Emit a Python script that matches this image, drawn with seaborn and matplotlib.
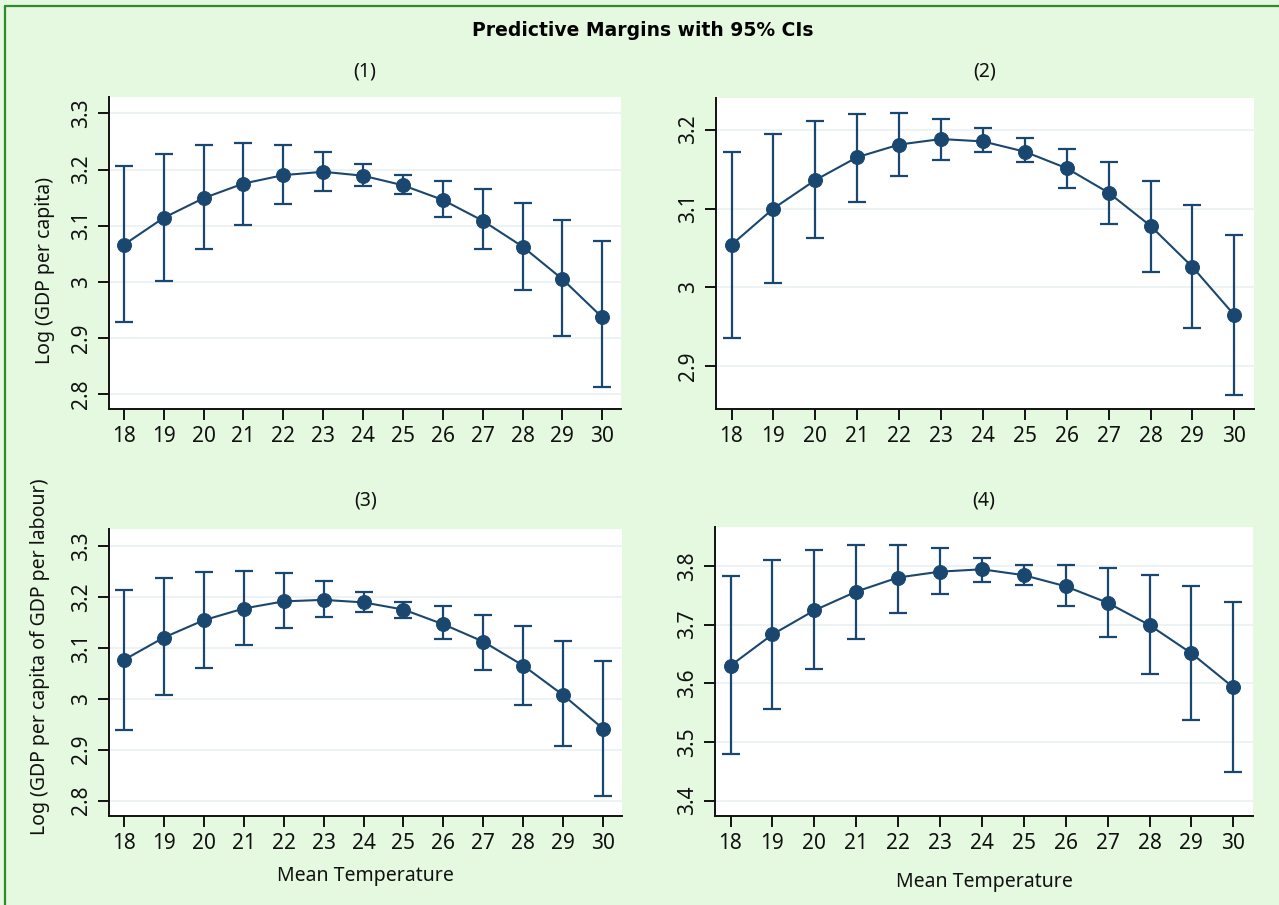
import matplotlib
matplotlib.use("Agg")
import matplotlib.pyplot as plt
from matplotlib.lines import Line2D
import numpy as np
import pandas as pd
import seaborn as sns

# ---------------------------
# DATA
# ---------------------------
temps = list(range(18, 31))

m1 = [3.066, 3.114, 3.149, 3.175, 3.190, 3.196, 3.189, 3.172, 3.146, 3.109, 3.063, 3.005, 2.937]
lo1 = [2.929, 3.002, 3.059, 3.102, 3.138, 3.161, 3.170, 3.156, 3.116, 3.058, 2.986, 2.904, 2.814]
hi1 = [3.206, 3.228, 3.243, 3.248, 3.244, 3.231, 3.210, 3.190, 3.180, 3.165, 3.141, 3.110, 3.073]

m2 = [3.054, 3.100, 3.136, 3.165, 3.181, 3.188, 3.185, 3.172, 3.151, 3.120, 3.078, 3.026, 2.965]
lo2 = [2.936, 3.006, 3.063, 3.108, 3.141, 3.162, 3.171, 3.159, 3.126, 3.080, 3.019, 2.949, 2.864]
hi2 = [3.171, 3.194, 3.211, 3.220, 3.221, 3.214, 3.202, 3.189, 3.176, 3.159, 3.135, 3.104, 3.067]

m3 = [3.076, 3.120, 3.154, 3.177, 3.191, 3.194, 3.189, 3.175, 3.146, 3.112, 3.065, 3.007, 2.941]
lo3 = [2.939, 3.007, 3.060, 3.106, 3.139, 3.161, 3.171, 3.159, 3.118, 3.056, 2.988, 2.907, 2.810]
hi3 = [3.214, 3.237, 3.248, 3.250, 3.246, 3.231, 3.210, 3.190, 3.182, 3.165, 3.143, 3.113, 3.075]

m4 = [3.630, 3.683, 3.724, 3.756, 3.780, 3.790, 3.794, 3.784, 3.765, 3.737, 3.699, 3.651, 3.593]
lo4 = [3.480, 3.557, 3.624, 3.676, 3.720, 3.752, 3.772, 3.767, 3.731, 3.679, 3.615, 3.537, 3.449]
hi4 = [3.783, 3.809, 3.827, 3.835, 3.835, 3.830, 3.814, 3.802, 3.801, 3.797, 3.785, 3.765, 3.738]

panel_titles = ["(1)", "(2)", "(3)", "(4)"]
ylabels = ["Log (GDP per capita)", "", "Log (GDP per capita of GDP per labour)", ""]
xlabels = ["", "", "Mean Temperature", "Mean Temperature"]
yticks = [
    [2.8, 2.9, 3.0, 3.1, 3.2, 3.3],
    [2.9, 3.0, 3.1, 3.2],
    [2.8, 2.9, 3.0, 3.1, 3.2, 3.3],
    [3.4, 3.5, 3.6, 3.7, 3.8],
]
ylims = [(2.774, 3.329), (2.846, 3.240), (2.770, 3.333), (3.374, 3.866)]

# ---------------------------
# STYLE
# ---------------------------
W, H = 1279, 905
BG = "#E5F9E1"
NAVY = "#1A476F"
GRID = "#EAF1F2"
INK = "#111111"

sns.set_theme(style="white")
plt.rcParams["font.family"] = ["Noto Sans", "DejaVu Sans"]

fig = plt.figure(figsize=(W / 100, H / 100), dpi=100, facecolor=BG)

# left/top green frame
fig.add_artist(Line2D([5 / W, 5 / W], [0, 1 - 6 / H], color="#2E8B2E", lw=1.6))
fig.add_artist(Line2D([5 / W, 1], [1 - 6 / H, 1 - 6 / H], color="#2E8B2E", lw=1.6))

fig.text(643 / W, 1 - 30 / H, "Predictive Margins with 95% CIs",
         ha="center", va="center", fontsize=13.5, fontweight="bold", color="black",
         family="DejaVu Sans")

# pixel boxes: left, right, top, bottom
boxes = [(109, 621, 97, 409), (716, 1254, 98, 409),
         (109, 622, 529, 816), (715, 1253, 527, 816)]
title_y = [72, 72, 500, 500]
xlab_y = [None, None, 876, 882]
ylab_pos = [(45, 271), None, (40, 657), None]

series = [(m1, lo1, hi1), (m2, lo2, hi2), (m3, lo3, hi3), (m4, lo4, hi4)]

for i, (l, r, t, b) in enumerate(boxes):
    ax = fig.add_axes([l / W, 1 - b / H, (r - l) / W, (b - t) / H])
    ax.set_facecolor("white")
    m, lo, hi = series[i]
    df = pd.DataFrame({"temp": temps, "margin": m, "lo": lo, "hi": hi})

    ax.errorbar(df["temp"], df["margin"],
                yerr=[df["margin"] - df["lo"], df["hi"] - df["margin"]],
                fmt="none", ecolor=NAVY, elinewidth=1.6, capsize=6.5, capthick=1.6, zorder=2)
    sns.lineplot(data=df, x="temp", y="margin", ax=ax, color=NAVY, lw=1.5,
                 marker="o", markersize=10, markeredgecolor=NAVY, markerfacecolor=NAVY, zorder=3)

    ax.set_xlim(17.63, 30.47)
    ax.set_ylim(*ylims[i])
    ax.set_xticks(temps)
    ax.set_xticklabels([str(v) for v in temps])
    ax.set_yticks(yticks[i])
    ax.set_yticklabels([f"{v:g}" for v in yticks[i]], rotation=90, va="center")
    for v in yticks[i]:
        ax.axhline(v, color=GRID, lw=1.2, zorder=0)

    for s in ["top", "right"]:
        ax.spines[s].set_visible(False)
    for s in ["left", "bottom"]:
        ax.spines[s].set_color(INK)
        ax.spines[s].set_linewidth(1.4)
    ax.tick_params(axis="both", which="major", direction="out", length=8, width=1.4,
                   color=INK, labelsize=15, labelcolor=INK, pad=4,
                   left=True, bottom=True)

    ax.set_xlabel("")
    ax.set_ylabel("")
    cx = (l + r) / 2
    fig.text(cx / W, 1 - title_y[i] / H, panel_titles[i], ha="center", va="center",
             fontsize=14, color=INK)
    if xlab_y[i] is not None:
        fig.text(cx / W, 1 - xlab_y[i] / H, xlabels[i], ha="center", va="center",
                 fontsize=14, color=INK)
    if ylab_pos[i] is not None:
        lx, ly = ylab_pos[i]
        fig.text(lx / W, 1 - ly / H, ylabels[i], ha="center", va="center",
                 rotation=90, fontsize=14, color=INK)

fig.savefig("out.png", dpi=100, facecolor=BG)
